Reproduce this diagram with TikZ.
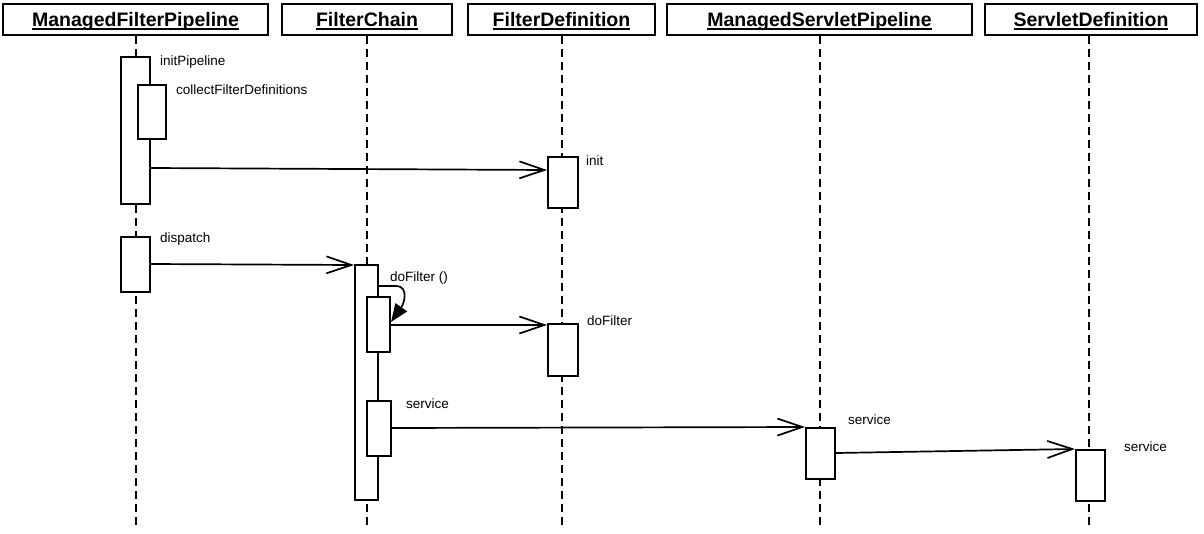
\documentclass[tikz,border=0pt]{standalone}
\usepackage{fontspec}
\setmainfont{Liberation Sans}
\usetikzlibrary{arrows.meta}
\newcommand\headul[1]{\setbox0\hbox{#1}\rlap{\vrule height -1.7pt depth 3.2pt width \wd0}\box0}
\begin{document}
\begin{tikzpicture}[x=1pt,y=-1pt,
  head/.style={draw, line width=2pt, inner sep=0pt, minimum height=31pt,
    text height=14pt, text depth=0pt, font=\fontsize{19.5}{20}\selectfont\bfseries},
  lifeline/.style={line width=2pt, dash pattern=on 8pt off 5pt},
  act/.style={draw, fill=white, line width=2pt, inner sep=0pt},
  msg/.style={line width=1.7pt, -{Straight Barb[length=25pt,width=17pt,line width=1.7pt]}},
  selfmsg/.style={line width=1.7pt, -{Triangle[length=18pt,width=14pt]}},
  lbl/.style={anchor=base west, inner sep=0pt, font=\fontsize{13.5}{14}\selectfont}]
\useasboundingbox (0,0) rectangle (1204,533);
% heads
\node[head, minimum width=265pt] (mfp) at (135.5,19.5) {\headul{ManagedFilterPipeline}};
\node[head, minimum width=170pt] (fc) at (367,19.5) {\headul{FilterChain}};
\node[head, minimum width=187pt] (fd) at (561.5,19.5) {\headul{FilterDefinition}};
\node[head, minimum width=305pt] (msp) at (819.5,19.5) {\headul{ManagedServletPipeline}};
\node[head, minimum width=212pt] (sd) at (1091,19.5) {\headul{ServletDefinition}};
% lifelines
\coordinate (mfpend) at (136,528);
\coordinate (fcend) at (367,528);
\coordinate (fdend) at (562,528);
\coordinate (mspend) at (820,528);
\coordinate (sdend) at (1089,528);
\draw[lifeline] (mfp.south -| mfpend) -- (mfpend);
\draw[lifeline] (fc.south -| fcend) -- (fcend);
\draw[lifeline] (fd.south -| fdend) -- (fdend);
\draw[lifeline] (msp.south -| mspend) -- (mspend);
\draw[lifeline] (sd.south -| sdend) -- (sdend);
% activations
\node[act, minimum width=29pt, minimum height=147pt] (ip) at (135.5,130.5) {};
\node[act, minimum width=28pt, minimum height=54pt] (cfd) at (152,112) {};
\node[act, minimum width=30pt, minimum height=51pt] (fdi) at (563,182.5) {};
\node[act, minimum width=29pt, minimum height=55pt] (dsp) at (135.5,264.5) {};
\node[act, minimum width=23pt, minimum height=235pt] (fcm) at (366.5,382.5) {};
\node[act, minimum width=23pt, minimum height=55pt] (fcd) at (378.5,324.5) {};
\node[act, minimum width=30pt, minimum height=52pt] (fdd) at (563,350) {};
\node[act, minimum width=24pt, minimum height=55pt] (fcs) at (379,428.5) {};
\node[act, minimum width=29pt, minimum height=51pt] (mspa) at (820.5,453.5) {};
\node[act, minimum width=29pt, minimum height=51pt] (sds) at (1090.5,475.5) {};
% messages
\draw[msg] (ip.east |- 0,168) -- (fdi.west |- 0,170);
\draw[msg] (dsp.east |- 0,264) -- (fcm.west |- 0,265);
\draw[selfmsg] (fcm.east |- 0,286) -- (397,286) .. controls (408,287) and (405,302) .. (fcd.east |- 0,322);
\draw[msg] (fcd.east |- 0,325) -- (fdd.west |- 0,325);
\draw[msg] (fcs.east |- 0,428) -- (mspa.north west);
\draw[msg] (mspa.east |- 0,453) -- (sds.north west);
% labels
\node[lbl] (l1) at (160,65) {initPipeline};
\node[lbl] (l2) at (176,94) {collectFilterDefinitions};
\node[lbl] (l3) at (586,165) {init};
\node[lbl] (l4) at (160,242) {dispatch};
\node[lbl] (l5) at (390,281) {doFilter ()};
\node[lbl] (l6) at (587,325) {doFilter};
\node[lbl] (l7) at (406,408) {service};
\node[lbl] (l8) at (848,424) {service};
\node[lbl] (l9) at (1124,451) {service};
\end{tikzpicture}
\end{document}
